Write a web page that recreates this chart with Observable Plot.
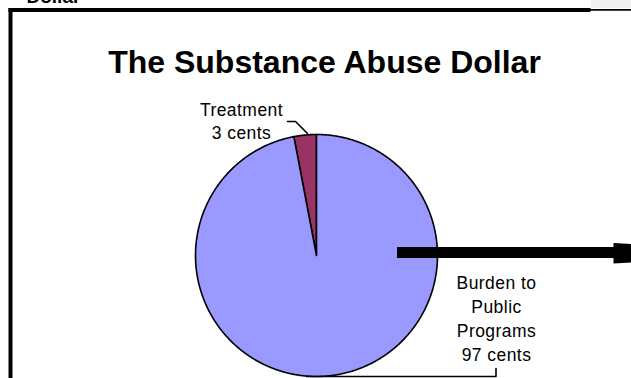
<!DOCTYPE html>
<html>
<head>
<meta charset="utf-8">
<script src="https://cdn.jsdelivr.net/npm/d3@7"></script>
<script src="https://cdn.jsdelivr.net/npm/@observablehq/plot@0.6"></script>
<style>
  html, body { margin: 0; padding: 0; background: #fff; overflow: hidden; }
  svg { display: block; }
  .lbl text { letter-spacing: 0.45px; }
</style>
</head>
<body>
<div id="chart"></div>
<script>
// ---- data ----
const categories = ["Treatment", "Burden to Public Programs"];
const values = [3, 97];
const sliceColors = ["#993366", "#9999FF"];
const labelLines = [["Treatment", "3 cents"], ["Burden to", "Public", "Programs", "97 cents"]];
const titleText = "The Substance Abuse Dollar";
const clippedHeading = "Dollar";

// ---- layout ----
const W = 631, H = 378;
const cx = 316, cy = 255, R = 121;
const total = d3.sum(values);
const startAngle = -2 * Math.PI * values[0] / total;

// build slice polygons from the values
const slicePts = [];
let a = startAngle;
values.forEach((v, i) => {
  const a0 = a, a1 = a + 2 * Math.PI * v / total;
  slicePts.push({slice: categories[i], x: cx, y: cy});
  const n = Math.max(2, Math.ceil((a1 - a0) / (Math.PI / 360)));
  for (let k = 0; k <= n; ++k) {
    const t = a0 + (a1 - a0) * k / n;
    slicePts.push({slice: categories[i], x: cx + R * Math.sin(t), y: cy - R * Math.cos(t)});
  }
  a = a1;
});

// labels
const labelRows = [];
labelLines[0].forEach((t, i) => labelRows.push({text: t, x: 241, y: 115 + 23 * i}));
labelLines[1].forEach((t, i) => labelRows.push({text: t, x: 496, y: 288.5 + 24 * i}));

// decorations
const leaders = [
  {g: "t", x: 287, y: 121}, {g: "t", x: 295, y: 121}, {g: "t", x: 307, y: 133},
  {g: "b", x: 306, y: 376}, {g: "b", x: 495.5, y: 376}, {g: "b", x: 495.5, y: 368}
];
const frame = [
  {g: "top", x: 10, y: 9.5}, {g: "top", x: 588, y: 9.5},
  {g: "left", x: 10, y: 9.5}, {g: "left", x: 10, y: 380}
];
const arrowShaft = [{x1: 397, x2: 614, y1: 247, y2: 258}];
const arrowHead = [{x: 613, y: 242.5}, {x: 805, y: 252.5}, {x: 613, y: 263}];

const chart = Plot.plot({
  width: W, height: H,
  margin: 0,
  x: {domain: [0, W], range: [0, W], axis: null},
  y: {domain: [0, H], range: [0, H], axis: null},
  color: {domain: categories, range: sliceColors},
  style: {background: "#fff", overflow: "hidden"},
  marks: [
    // top-right gray tab and thin line
    Plot.rect([{x1: 591, x2: 640, y1: -2, y2: 8}], {x1: "x1", x2: "x2", y1: "y1", y2: "y2", fill: "#f0f0f0"}),
    Plot.line([{x: 586, y: 9.4}, {x: 640, y: 9.4}], {x: "x", y: "y", stroke: "#000", strokeWidth: 1.8}),
    // frame
    Plot.line(frame, {x: "x", y: "y", z: "g", stroke: "#000", strokeWidth: 4, strokeLinecap: "square"}),
    // clipped heading at top
    Plot.text([{t: clippedHeading, x: 26, y: 2.5}], {x: "x", y: "y", text: "t", textAnchor: "start", lineAnchor: "bottom",
      fontFamily: "Liberation Sans, Arial, sans-serif", fontWeight: "bold", fontSize: 19, fill: "#000"}),
    // title
    Plot.text([{t: titleText, x: 324, y: 72}], {x: "x", y: "y", text: "t", textAnchor: "middle", lineAnchor: "bottom",
      fontFamily: "Liberation Sans, Arial, sans-serif", fontWeight: "bold", fontSize: 32, fill: "#000"}),
    // pie
    Plot.line(slicePts, {x: "x", y: "y", z: "slice", fill: "slice", stroke: "#000", strokeWidth: 1.6, curve: "linear-closed", strokeLinejoin: "round"}),
    // arrow
    Plot.rect(arrowShaft, {x1: "x1", x2: "x2", y1: "y1", y2: "y2", fill: "#000"}),
    Plot.line(arrowHead, {x: "x", y: "y", fill: "#000", stroke: "none", curve: "linear-closed"}),
    // leader lines
    Plot.line(leaders, {x: "x", y: "y", z: "g", stroke: "#000", strokeWidth: 1.6}),
    // labels
    Plot.text(labelRows, {x: "x", y: "y", text: "text", textAnchor: "middle", lineAnchor: "bottom",
      className: "lbl",
      fontFamily: "Liberation Sans, Arial, sans-serif", fontSize: 17.5, fill: "#000"})
  ]
});
document.getElementById("chart").appendChild(chart);
</script>
</body>
</html>
